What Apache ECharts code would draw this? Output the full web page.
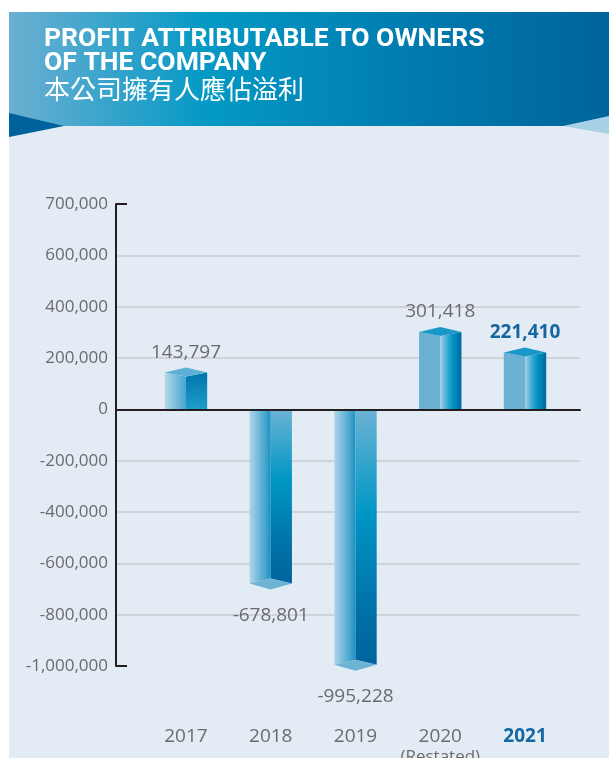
<!DOCTYPE html>
<html>
<head>
<meta charset="utf-8">
<script src="https://cdn.jsdelivr.net/npm/echarts@6/dist/echarts.min.js"></script>
<style>
  html, body { margin: 0; padding: 0; background: #fff; }
  #chart { width: 609px; height: 758px; }
</style>
</head>
<body>
<div id="chart"></div>
<script>
  // data
  var years = ['2017', '2018', '2019', '2020', '2021'];
  var yearNotes = ['', '', '', '(Restated)', ''];
  var profit = [143797, -678801, -995228, 301418, 221410];
  var yTickLabels = ['-1,000,000', '-800,000', '-600,000', '-400,000', '-200,000',
                     '0', '200,000', '400,000', '600,000', '700,000'];
  var yMin = -1000000, yMax = 800000, yStep = 200000;

  var numFont = '"Open Sans", "Noto Sans", sans-serif';
  var grey = '#6b6b6b';
  var hiBlue = '#1667a0';

  var chart = echarts.init(document.getElementById('chart'));

  function lg(x2, y2, stops) {
    return new echarts.graphic.LinearGradient(0, 0, x2, y2, stops.map(function (s) {
      return {offset: s[0], color: s[1]};
    }));
  }

  // 3D looking box for each year
  function renderBox(params, api) {
    var idx = api.value(0), val = api.value(1);
    var base = api.coord([idx, 0]);
    var end = api.coord([idx, val]);
    var x = base[0], y0 = base[1], y1 = end[1];
    var w = api.size([1, 0])[0] * 0.25;
    var last = params.dataIndex === years.length - 1;
    var kids = [];
    var txt = profit[params.dataIndex].toLocaleString('en-US');
    if (val < 0) {
      kids.push({type: 'polygon', shape: {points: [[x - w, y0], [x, y0], [x, y1 - 5], [x - w, y1]]},
        style: {fill: lg(1, 0, [[0, '#b0d5ea'], [0.75, '#45a5cf'], [1, '#1a8fc0']])}});
      kids.push({type: 'polygon', shape: {points: [[x, y0], [x + w, y0], [x + w, y1], [x, y1 - 5]]},
        style: {fill: lg(0, 1, [[0, '#6cb3d4'], [0.4, '#0097c5'], [0.75, '#0074aa'], [1, '#00649c']])}});
      kids.push({type: 'polygon', shape: {points: [[x - w, y1], [x, y1 - 5], [x + w, y1], [x, y1 + 6]]},
        style: {fill: '#6cb3d4'}});
      kids.push({type: 'text', style: {text: txt, x: x, y: y1 + 32, align: 'center', verticalAlign: 'middle',
        font: '19px ' + numFont, fill: grey}});
    } else if (idx === 0) {
      kids.push({type: 'polygon', shape: {points: [[x - w, y1], [x, y1 + 4], [x, y0], [x - w, y0]]},
        style: {fill: lg(1, 0, [[0, '#b4d7ea'], [1, '#45a6d0']])}});
      kids.push({type: 'polygon', shape: {points: [[x, y1 + 4], [x + w, y1], [x + w, y0], [x, y0]]},
        style: {fill: lg(0, 1, [[0, '#0075ab'], [1, '#1f9dcb']])}});
      kids.push({type: 'polygon', shape: {points: [[x - w, y1], [x, y1 - 5], [x + w, y1], [x, y1 + 4]]},
        style: {fill: '#5fb0d6'}});
    } else {
      kids.push({type: 'polygon', shape: {points: [[x - w, y1], [x, y1 + 4], [x, y0], [x - w, y0]]},
        style: {fill: '#6ab1d3'}});
      kids.push({type: 'polygon', shape: {points: [[x, y1 + 4], [x + w, y1], [x + w, y0], [x, y0]]},
        style: {fill: lg(1, 0, [[0, '#a3cfe6'], [0.4, '#2aa3cf'], [0.6, '#0091c0'], [1, '#006a9f']])}});
      kids.push({type: 'polygon', shape: {points: [[x - w, y1], [x, y1 - 5], [x + w, y1], [x, y1 + 4]]},
        style: {fill: '#1898c6'}});
    }
    if (val >= 0) {
      kids.push({type: 'text', style: {text: txt, x: x, y: y1 - 20, align: 'center', verticalAlign: 'middle',
        font: (last ? 'bold ' : '') + '19px ' + numFont, fill: last ? hiBlue : grey}});
    }
    return {type: 'group', children: kids};
  }

  chart.setOption({
    backgroundColor: '#fff',
    animation: false,
    graphic: [
      {type: 'rect', shape: {x: 9, y: 126, width: 600, height: 632}, style: {fill: '#e3ebf5'}, z: -10},
      {type: 'rect', shape: {x: 9, y: 12, width: 600, height: 114}, z: -10,
        style: {fill: {type: 'linear', x: 0, y: 0, x2: 1, y2: 0, colorStops: [
          {offset: 0, color: '#6cafd2'}, {offset: 0.33, color: '#0499c5'},
          {offset: 0.7, color: '#0079ae'}, {offset: 1, color: '#00649a'}]}}},
      {type: 'polygon', shape: {points: [[9, 113], [64, 126], [9, 137]]}, style: {fill: '#00629a'}, z: -9},
      {type: 'polygon', shape: {points: [[609, 116], [563, 126], [609, 134]]}, style: {fill: '#a9d1e5'}, z: -9},
      {type: 'text', left: 44, top: 26, z: 2, style: {text: 'PROFIT ATTRIBUTABLE TO OWNERS\nOF THE COMPANY',
        font: 'bold 26.5px Roboto, "Liberation Sans", sans-serif', fill: '#fff', lineHeight: 24}},
      {type: 'text', left: 44, top: 76, z: 2, style: {text: '本公司擁有人應佔溢利',
        font: '26px "Noto Sans CJK TC", sans-serif', fill: '#fff'}}
    ],
    grid: [
      {left: 116, right: 29, top: 204, bottom: 92, outerBoundsMode: 'none'},
      {left: 143.6, right: 41.6, top: 204, bottom: 92, outerBoundsMode: 'none'}
    ],
    xAxis: [
      {gridIndex: 0, type: 'value', min: 0, max: 1, z: 5,
        axisLine: {show: true, onZero: true, lineStyle: {color: '#231f20', width: 2}},
        axisTick: {show: false}, axisLabel: {show: false}, splitLine: {show: false}},
      {gridIndex: 1, type: 'category', data: years,
        axisLine: {show: false, onZero: false}, axisTick: {show: false},
        axisLabel: {margin: 60, interval: 0,
          formatter: function (v, i) {
            if (i === years.length - 1) return '{hl|' + v + '}';
            return '{n|' + v + '}' + (yearNotes[i] ? '\n{s|' + yearNotes[i] + '}' : '');
          },
          rich: {
            n: {fontSize: 19, fontFamily: numFont, color: grey, lineHeight: 22},
            s: {fontSize: 17, fontFamily: numFont, color: grey, lineHeight: 18},
            hl: {fontSize: 19, fontFamily: numFont, fontWeight: 'bold', color: hiBlue, lineHeight: 22}
          }}}
    ],
    yAxis: [
      // labels + gridlines
      {gridIndex: 0, type: 'value', min: yMin, max: yMax, interval: yStep, z: 1,
        axisLine: {show: false}, axisTick: {show: false},
        axisLabel: {margin: 8, fontSize: 17, fontFamily: numFont, color: grey,
          formatter: function (v) { return yTickLabels[Math.round((v - yMin) / yStep)]; }},
        splitLine: {show: true, showMinLine: false, showMaxLine: false,
          lineStyle: {color: '#cacdd1', width: 1.5}}},
      {gridIndex: 1, type: 'value', min: yMin, max: yMax, interval: yStep, show: false},
      // black axis line with end ticks only
      {gridIndex: 0, type: 'value', position: 'left', offset: 0, min: yMin, max: yMax, interval: yStep, z: 6,
        axisLine: {show: true, lineStyle: {color: '#231f20', width: 2}},
        axisTick: {show: true, inside: true, length: 11, customValues: [yMin, yMax],
          lineStyle: {color: '#231f20', width: 2}},
        axisLabel: {show: false}, splitLine: {show: false}}
    ],
    series: [{
      type: 'custom',
      xAxisIndex: 1,
      yAxisIndex: 1,
      z: 2,
      renderItem: renderBox,
      data: profit.map(function (v, i) { return [i, v]; })
    }]
  });
</script>
</body>
</html>
